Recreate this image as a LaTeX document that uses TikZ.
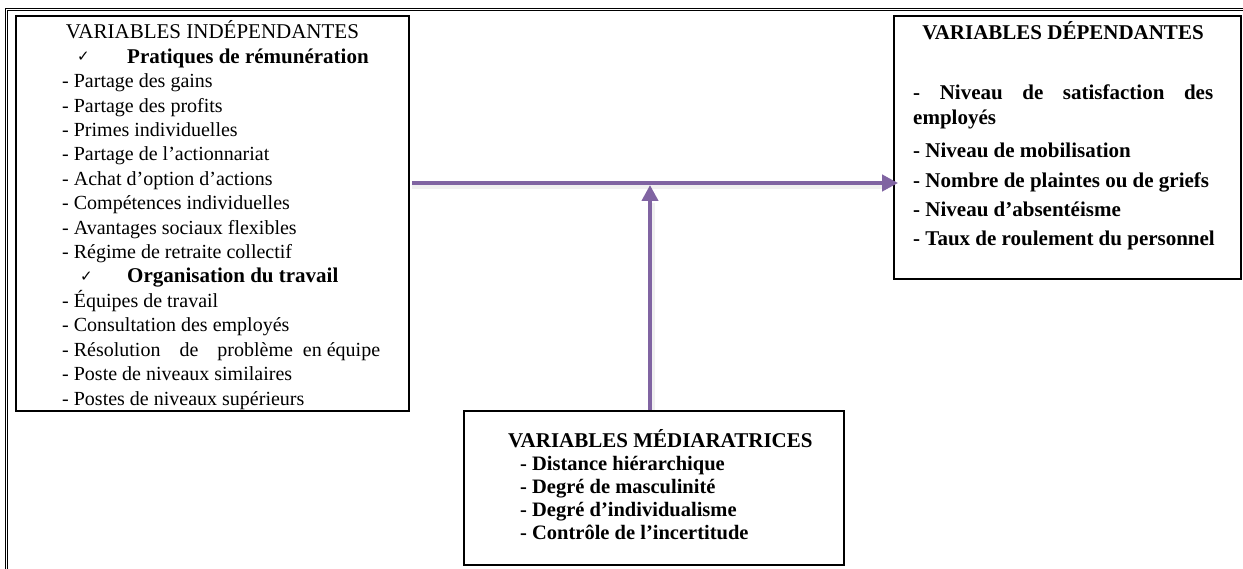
\documentclass[tikz,border=0pt]{standalone}
\usepackage{fontspec}
\setmainfont{Liberation Serif}
\newfontfamily\symfont{DejaVu Sans}
\usetikzlibrary{arrows.meta}
\definecolor{arrowpurple}{HTML}{8064A2}
\begin{document}
\begin{tikzpicture}[x=1bp,y=-1bp,
  box/.style={draw=black, line width=1.8bp, inner sep=0pt, rectangle},
  item/.style={anchor=base west, inner sep=0pt, font=\fontsize{20bp}{24bp}\selectfont},
  bitem/.style={anchor=base west, inner sep=0pt, font=\fontsize{21bp}{24bp}\selectfont\bfseries},
  mitem/.style={anchor=base west, inner sep=0pt, font=\fontsize{20.5bp}{24bp}\selectfont\bfseries},
  chk/.style={anchor=base west, inner sep=0pt, font=\symfont\fontsize{15bp}{16bp}\selectfont},
  arr/.style={draw=arrowpurple, line width=4.5bp, -{Triangle[length=16bp,width=16bp]}},
  shad/.style={draw=gray!40, line width=6bp, opacity=0.3}
]
\useasboundingbox (0,0) rectangle (1243,569);
% outer frame
\draw[line width=0.7bp] (5.2,569) -- (5.2,8.6) -- (1243,8.6);
\draw[line width=1.1bp] (7.4,569) -- (7.4,10.8) -- (1243,10.8);
% boxes
\node[box, minimum width=393bp, minimum height=395bp] (L) at (212.5,213.5) {};
\node[box, minimum width=347bp, minimum height=263bp] (R) at (1067.5,147.5) {};
\node[box, minimum width=380bp, minimum height=154bp] (M) at (654,488) {};
% left box text
\node[anchor=base, inner sep=0pt, font=\fontsize{21bp}{24bp}\selectfont] (l0) at (212.5,39) {VARIABLES INDÉPENDANTES};
\node[chk] (c1) at (77,62) {✓};
\node[bitem] (l1) at (127,63.4) {Pratiques de rémunération};
\node[item] (l2) at (62,87.8) {- Partage des gains};
\node[item] (l3) at (62,112.2) {- Partage des profits};
\node[item] (l4) at (62,136.6) {- Primes individuelles};
\node[item] (l5) at (62,161) {- Partage de l’actionnariat};
\node[item] (l6) at (62,185.4) {- Achat d’option d’actions};
\node[item] (l7) at (62,209.8) {- Compétences individuelles};
\node[item] (l8) at (62,234.2) {- Avantages sociaux flexibles};
\node[item] (l9) at (62,258.6) {- Régime de retraite collectif};
\node[chk] (c2) at (80,282) {✓};
\node[bitem] (l10) at (127,283) {Organisation du travail};
\node[item] (l11) at (62,307.4) {- Équipes de travail};
\node[item] (l12) at (62,331.8) {- Consultation des employés};
\node[item] (l13) at (62,356.2) {- Résolution\hspace{14bp} de\hspace{14bp} problème\hspace{5bp} en équipe};
\node[item] (l14) at (62,380.6) {- Poste de niveaux similaires};
\node[item] (l15) at (62,405) {- Postes de niveaux supérieurs};
% right box text
\node[anchor=base, inner sep=0pt, font=\fontsize{21bp}{24bp}\selectfont\bfseries] (r0) at (1063,40) {VARIABLES DÉPENDANTES};
\node[bitem] (r1) at (913,100) {\makebox[300bp][s]{- Niveau de satisfaction des}};
\node[bitem] (r2) at (913,125) {employés};
\node[bitem] (r3) at (913,158) {- Niveau de mobilisation};
\node[bitem] (r4) at (913,188) {- Nombre de plaintes ou de griefs};
\node[bitem] (r5) at (913,217) {- Niveau d’absentéisme};
\node[bitem] (r6) at (913,246) {- Taux de roulement du personnel};
% bottom box text
\node[mitem, font=\fontsize{21bp}{24bp}\selectfont\bfseries] (m0) at (508,447) {VARIABLES MÉDIARATRICES};
\node[mitem] (m1) at (520,470.5) {- Distance hiérarchique};
\node[mitem] (m2) at (520,493.5) {- Degré de masculinité};
\node[mitem] (m3) at (520,516.5) {- Degré d’individualisme};
\node[mitem] (m4) at (520,539.5) {- Contrôle de l’incertitude};
% connectors
\coordinate (hy) at (0,183);
\coordinate (vx) at (650,0);
\coordinate (hs) at ([xshift=2bp]L.east |- hy);
\coordinate (he) at ([xshift=5bp]R.west |- hy);
\coordinate (vs) at (vx |- M.north);
\coordinate (ve) at ([yshift=-2bp]vx |- hy);
\draw[shad] ([yshift=-3bp]hs) -- ([xshift=-14bp,yshift=-3bp]he);
\draw[shad] ([xshift=2bp]vs) -- ([xshift=2bp,yshift=-18bp]ve);
\draw[arr] (hs) -- (he);
\draw[arr] (vs) -- (ve);
\end{tikzpicture}
\end{document}
